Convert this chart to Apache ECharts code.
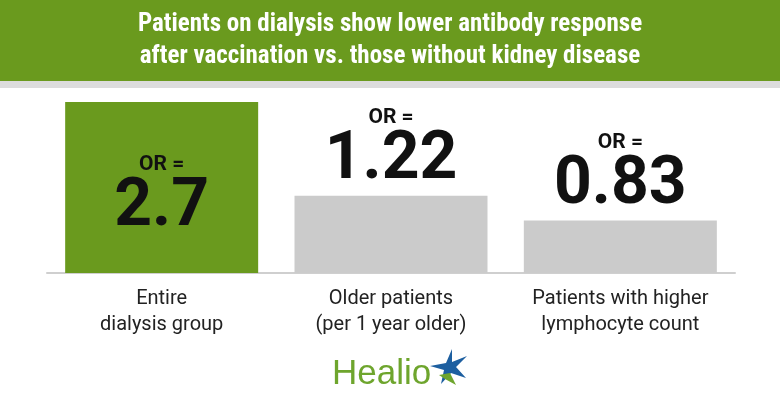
<!DOCTYPE html>
<html>
<head>
<meta charset="UTF-8">
<script src="https://cdn.jsdelivr.net/npm/echarts@6/dist/echarts.min.js"></script>
<style>body{margin:0}#main{width:780px;height:405px}</style>
</head>
<body>
<div id="main"></div>
<script>
var categories = ['Entire\ndialysis group', 'Older patients\n(per 1 year older)', 'Patients with higher\nlymphocyte count'];
var values = [2.7, 1.22, 0.83];
var valueLabels = ['2.7', '1.22', '0.83'];
var titleText = 'Patients on dialysis show lower antibody response\nafter vaccination vs. those without kidney disease';

var green = '#6a9a1e';
var chart = echarts.init(document.getElementById('main'));

var data = values.map(function (v, i) {
    var inside = i === 0;
    return {
        value: v,
        itemStyle: {color: inside ? green : '#cbcbcb'},
        label: {
            show: true,
            position: inside ? 'inside' : 'top',
            offset: inside ? [0, 6] : [0, 0],
            formatter: '{a|OR =}\n{b|' + valueLabels[i] + '}',
            rich: {
                a: {fontFamily: 'Roboto', fontWeight: 'bold', fontSize: 21, color: '#111', lineHeight: 30},
                b: {fontFamily: 'Roboto', fontWeight: 'bold', fontSize: 66, color: '#111', lineHeight: 58}
            }
        }
    };
});

chart.setOption({
    animation: false,
    backgroundColor: '#fff',
    graphic: [
        {type: 'rect', shape: {x: 0, y: 0, width: 780, height: 81}, style: {fill: green}},
        {type: 'rect', shape: {x: 0, y: 81, width: 780, height: 7}, style: {fill: '#dcdcdc'}},
        {type: 'text', x: 390, y: 41, style: {text: titleText, fill: '#fff', font: 'bold 25px "Roboto Condensed", Roboto', align: 'center', verticalAlign: 'middle', lineHeight: 32}},
        {type: 'text', x: 332, y: 374, style: {text: 'Healio', fill: '#6ea52d', font: '35px "Liberation Sans"', verticalAlign: 'middle'}},
        {type: 'polygon', shape: {points: [[452,349],[446,363],[430,366],[444,370],[441,384],[451,373],[466,378],[456,367],[467,356],[452,362]]}, style: {fill: '#1d5fa0'}},
        {type: 'polygon', shape: {points: [[439,375],[450,373],[456,385],[445,379]]}, style: {fill: '#6ea52d'}}
    ],
    grid: {left: 47, right: 45, top: 102, bottom: 132},
    xAxis: {
        type: 'category',
        data: categories,
        axisTick: {show: false},
        axisLine: {lineStyle: {color: '#cfcfcf', width: 2}},
        axisLabel: {color: '#222', fontFamily: 'Roboto', fontSize: 20, lineHeight: 26, margin: 13}
    },
    yAxis: {type: 'value', min: 0, max: 2.7, show: false, splitLine: {show: false}},
    series: [{type: 'bar', data: data, barWidth: 193}]
});
</script>
</body>
</html>
